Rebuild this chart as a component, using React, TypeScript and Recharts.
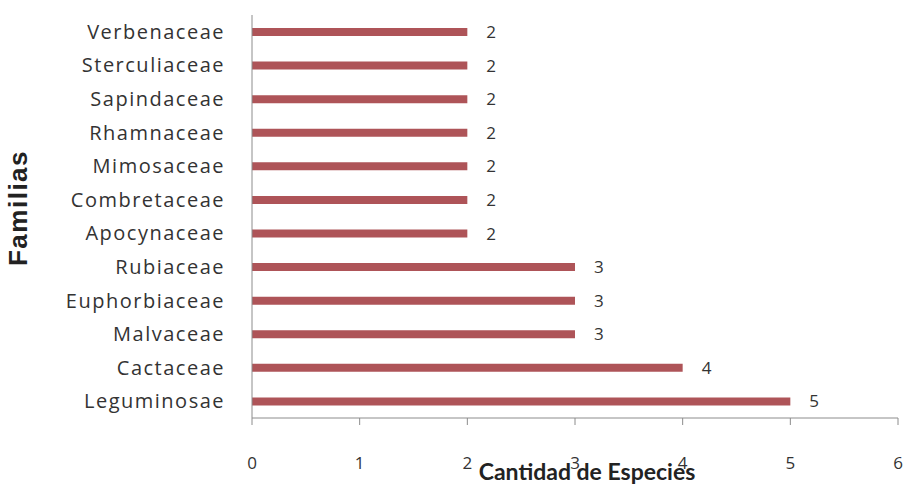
import { Bar, BarChart, XAxis, YAxis, LabelList } from "recharts"

const familias = [
  "Verbenaceae",
  "Sterculiaceae",
  "Sapindaceae",
  "Rhamnaceae",
  "Mimosaceae",
  "Combretaceae",
  "Apocynaceae",
  "Rubiaceae",
  "Euphorbiaceae",
  "Malvaceae",
  "Cactaceae",
  "Leguminosae",
]

const especies = [2, 2, 2, 2, 2, 2, 2, 3, 3, 3, 4, 5]

const xTicks = [0, 1, 2, 3, 4, 5, 6]

const data = familias.map((name, i) => ({ name, total: especies[i] }))

const FONT = "'Open Sans', Lato, sans-serif"

function FamiliasLabel() {
  return (
    <text
      x={0}
      y={0}
      transform="translate(27 208) rotate(-90)"
      textAnchor="middle"
      fontFamily="'Liberation Sans', Arial, sans-serif"
      fontWeight="bold"
      fontSize={26}
      letterSpacing={1.5}
      fill="#222"
    >
      Familias
    </text>
  )
}

function EspeciesLabel() {
  return (
    <text
      x={587}
      y={480}
      textAnchor="middle"
      fontFamily="Lato, sans-serif"
      fontWeight="bold"
      fontSize={23}
      fill="#222"
    >
      Cantidad de Especies
    </text>
  )
}

export default function App() {
  return (
    <div style={{ position: "absolute", left: 0, top: 0, background: "#fff" }}>
      <BarChart
        width={906}
        height={491}
        data={data}
        layout="vertical"
        margin={{ top: 15, right: 8, bottom: 0, left: 0 }}
      >
        <XAxis
          type="number"
          domain={[0, 6]}
          ticks={xTicks}
          interval={0}
          height={73}
          stroke="#8c8c8c"
          tickSize={7}
          tickMargin={32}
          tick={{ fill: "#333", fontSize: 17, fontFamily: FONT }}
          label={<EspeciesLabel />}
        />
        <YAxis
          type="category"
          dataKey="name"
          width={252}
          stroke="#8c8c8c"
          tickLine={false}
          tickSize={0}
          tickMargin={27}
          interval={0}
          tick={{ fill: "#333", fontSize: 20, fontFamily: FONT, letterSpacing: 1.5 }}
          label={<FamiliasLabel />}
        />
        <Bar dataKey="total" fill="#ae5458" barSize={8} isAnimationActive={false}>
          <LabelList
            dataKey="total"
            position="right"
            offset={19}
            fill="#333"
            fontSize={17}
            fontFamily={FONT}
          />
        </Bar>
      </BarChart>
    </div>
  )
}
